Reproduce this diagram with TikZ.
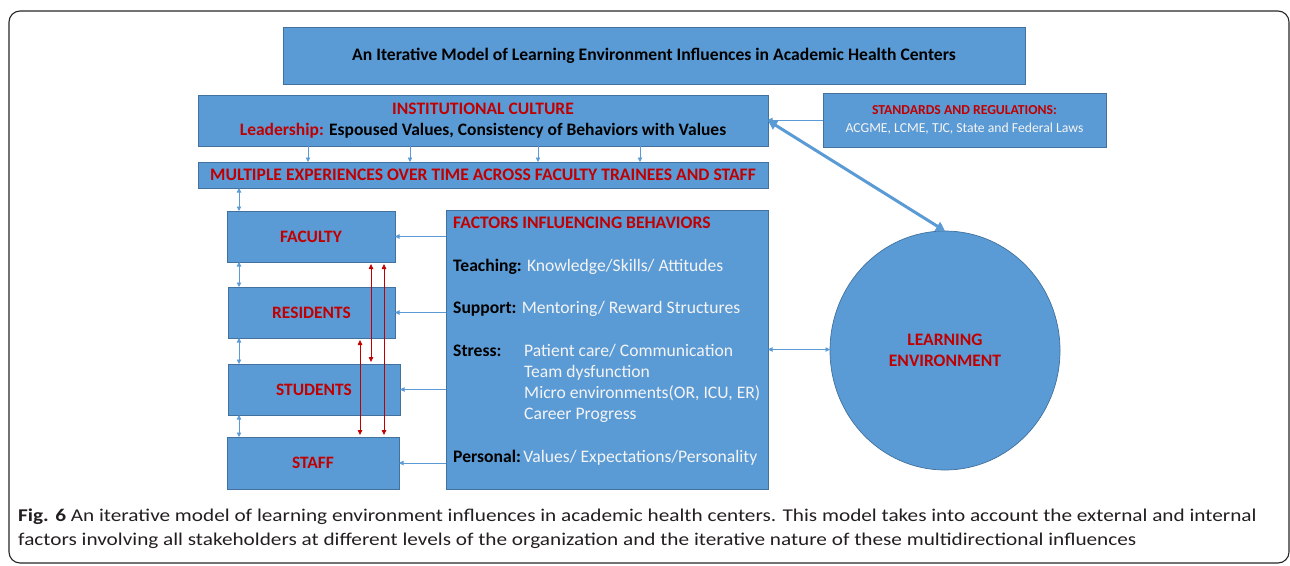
\documentclass[tikz,border=0pt]{standalone}
\usepackage{fontspec}
\setmainfont{Carlito}
\newfontfamily\capfont[FakeStretch=1.18]{Carlito}
\usetikzlibrary{arrows.meta,shapes.geometric}
\definecolor{boxfill}{HTML}{5B9BD5}
\definecolor{boxline}{HTML}{41719C}
\definecolor{redtxt}{HTML}{C00000}
\definecolor{wtxt}{HTML}{F4F4F4}
\definecolor{captxt}{HTML}{231F20}
\begin{document}
\begin{tikzpicture}[x=1pt,y=-1pt,
  blk/.style={draw=boxline,fill=boxfill,line width=0.7pt,inner sep=0pt,outer sep=0pt},
  redlbl/.style={text=redtxt,font=\bfseries\fontsize{17.4}{21}\selectfont},
  arr/.style={draw=boxfill,line width=0.9pt,-{Triangle[length=4.5pt,width=4.5pt]}},
  darr/.style={draw=boxfill,line width=0.9pt,{Triangle[length=4.5pt,width=4.5pt]}-{Triangle[length=4.5pt,width=4.5pt]}},
  rarr/.style={draw=redtxt,line width=0.8pt,shorten <=2pt,shorten >=2pt,{Triangle[length=5pt,width=4.5pt]}-{Triangle[length=5pt,width=4.5pt]}},
  bigarr/.style={draw=boxfill,line width=3pt,{Triangle[length=9pt,width=10pt]}-{Triangle[length=9pt,width=10pt]}},
  txt/.style={anchor=base west,inner sep=0pt,font=\fontsize{17.6}{21}\selectfont}
]
\useasboundingbox (0,0) rectangle (1290,565);
\draw[line width=1.1pt,draw=black!85,rounded corners=11pt] (9,11) rectangle (1289,563);

% boxes
\node[blk,minimum width=742pt,minimum height=57pt,font=\bfseries\fontsize{17.6}{21}\selectfont] (title) at (654,55.5)
  {An Iterative Model of Learning Environment Influences in Academic Health Centers};
\node[blk,minimum width=570pt,minimum height=51pt,align=center,font=\bfseries\fontsize{17.5}{21}\selectfont] (inst) at (483,120.5)
  {\textcolor{redtxt}{INSTITUTIONAL CULTURE}\\\textcolor{redtxt}{Leadership:} Espoused Values, Consistency of Behaviors with Values};
\node[blk,minimum width=283pt,minimum height=54pt,align=center,font=\fontsize{13.7}{17.5}\selectfont] (std) at (964.5,120)
  {\textcolor{redtxt}{\bfseries STANDARDS AND REGULATIONS:}\\\textcolor{wtxt}{ACGME, LCME, TJC, State and Federal Laws}};
\node[blk,minimum width=570pt,minimum height=26pt,redlbl,font=\bfseries\fontsize{17.6}{21}\selectfont] (multi) at (483,175)
  {MULTIPLE EXPERIENCES OVER TIME ACROSS FACULTY TRAINEES AND STAFF};
\node[blk,minimum width=168pt,minimum height=51pt,redlbl] (faculty) at (311,236.5) {FACULTY};
\node[blk,minimum width=167pt,minimum height=51pt,redlbl] (residents) at (311.5,312.5) {RESIDENTS};
\node[blk,minimum width=172pt,minimum height=51pt,redlbl] (students) at (314,389.5) {STUDENTS};
\node[blk,minimum width=172pt,minimum height=52pt,redlbl] (staff) at (313,463) {STAFF};
\node[blk,minimum width=322pt,minimum height=279pt] (factors) at (607,349.5) {};
\node[blk,ellipse,minimum width=230pt,minimum height=239pt,align=center,redlbl,font=\bfseries\fontsize{17.5}{21}\selectfont] (le) at (945,350.5)
  {LEARNING\\ENVIRONMENT};

% factors text
\node[txt,text=redtxt,font=\bfseries\fontsize{17.6}{21}\selectfont] (fhead) at (453,228) {FACTORS INFLUENCING BEHAVIORS};
\node[txt] (fteach) at (453,271.5) {\textbf{Teaching:} \textcolor{wtxt}{Knowledge/Skills/ Attitudes}};
\node[txt] (fsup) at (453,313) {\textbf{Support:} \textcolor{wtxt}{Mentoring/ Reward Structures}};
\node[txt] (fstr) at (453,356) {\bfseries Stress:};
\node[txt,text=wtxt] (fstr1) at (524,356) {Patient care/ Communication};
\node[txt,text=wtxt] (fstr2) at (524,377) {Team dysfunction};
\node[txt,text=wtxt] (fstr3) at (524,398) {Micro environments(OR, ICU, ER)};
\node[txt,text=wtxt] (fstr4) at (524,419) {Career Progress};
\node[txt] (fper) at (453,462) {\textbf{Personal:}\hspace{2.5pt}\textcolor{wtxt}{Values/ Expectations/Personality}};

% connectors
\draw[arr] (std.west) -- (std.west -| inst.east);
\draw[bigarr] (inst.east) -- (le.north);
\foreach \xx in {308,410,538,640}
  \draw[arr] (\xx,0 |- inst.south) -- (\xx,0 |- multi.north);
\draw[darr] (239,0 |- multi.south) -- (239,0 |- faculty.north);
\draw[darr] (239,0 |- faculty.south) -- (239,0 |- residents.north);
\draw[darr] (239,0 |- residents.south) -- (239,0 |- students.north);
\draw[darr] (239,0 |- students.south) -- (239,0 |- staff.north);
\draw[arr] (factors.west |- faculty.east) -- (faculty.east);
\draw[arr] (factors.west |- residents.east) -- (residents.east);
\draw[arr] (factors.west |- students.east) -- (students.east);
\draw[arr] (factors.west |- staff.east) -- (staff.east);
\draw[darr] (factors.east) -- (factors.east -| le.west);
\draw[rarr] (371,0 |- faculty.south) -- (371,0 |- students.north);
\draw[rarr] (384,0 |- faculty.south) -- (384,0 |- staff.north);
\draw[rarr] (360,0 |- residents.south) -- (360,0 |- staff.north);

% caption
\node[anchor=base west,inner sep=0pt,text=captxt,font=\capfont\fontsize{18}{22}\selectfont] (cap1) at (18,521)
  {{\bfseries Fig. 6} An iterative model of learning environment influences in academic health centers. This model takes into account the external and internal};
\node[anchor=base west,inner sep=0pt,text=captxt,font=\capfont\fontsize{18}{22}\selectfont] (cap2) at (18,545.5)
  {factors involving all stakeholders at different levels of the organization and the iterative nature of these multidirectional influences};
\end{tikzpicture}
\end{document}
